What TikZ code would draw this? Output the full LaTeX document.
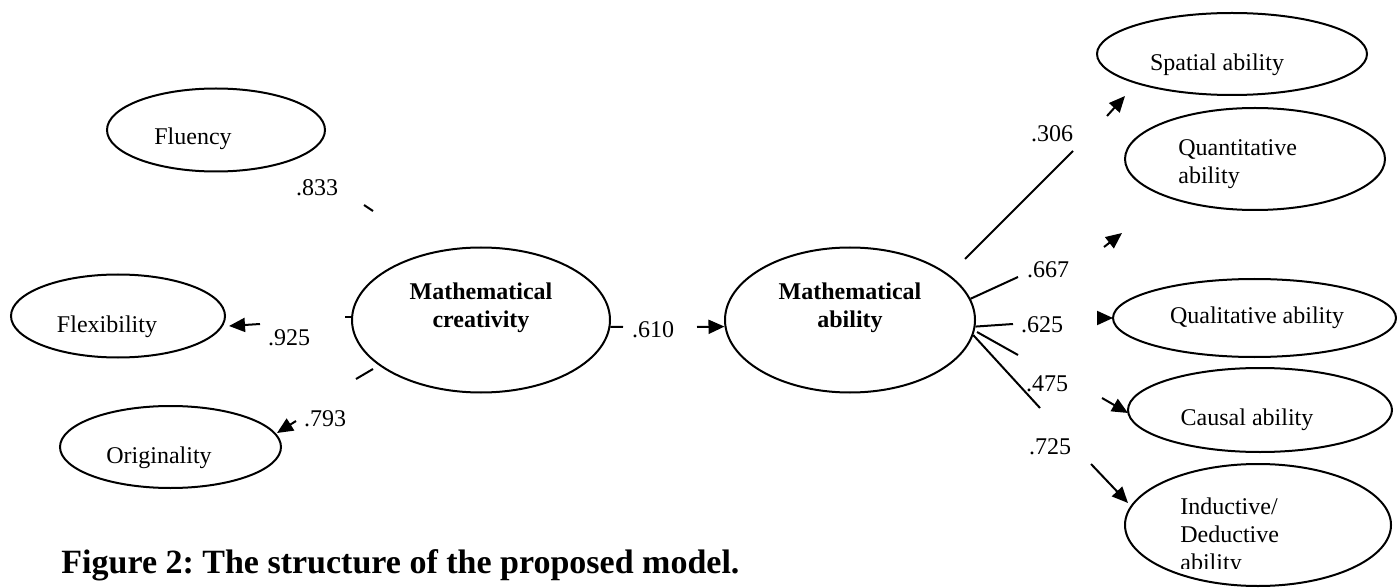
\documentclass[tikz,border=0pt]{standalone}
\usepackage{fontspec}
\setmainfont{Liberation Serif}
\frenchspacing
\usetikzlibrary{arrows.meta,shapes.geometric}
\begin{document}
\begin{tikzpicture}[x=0.5pt,y=-0.5pt,
  lat/.style={draw,ellipse,line width=1pt,inner sep=0pt},
  txt/.style={font=\fontsize{12}{14}\selectfont,inner sep=0pt},
  btxt/.style={font=\fontsize{12}{14}\selectfont\bfseries,inner sep=0pt,align=center},
  num/.style={font=\fontsize{12}{14}\selectfont,inner sep=0pt},
  seg/.style={line width=1pt},
  arr/.style={line width=1pt,-{Triangle[length=8pt,width=7pt]}}]
\useasboundingbox (0,0) rectangle (1397,588);

% latent / observed ellipses
\node[lat,minimum width=109pt,minimum height=41.5pt] (flu) at (216,130) {};
\node[lat,minimum width=107pt,minimum height=41.5pt] (flx) at (118,316) {};
\node[lat,minimum width=110.5pt,minimum height=41pt] (ori) at (170.5,447) {};
\node[lat,minimum width=129pt,minimum height=72.5pt] (cre) at (481,320) {};
\node[lat,minimum width=125pt,minimum height=72.5pt] (abl) at (850,320) {};
\node[lat,minimum width=135pt,minimum height=41pt] (spa) at (1232,54) {};
\node[lat,minimum width=130pt,minimum height=51pt] (qua) at (1255,159) {};
\node[lat,minimum width=141.5pt,minimum height=39pt] (qul) at (1254.5,318) {};
\node[lat,minimum width=132pt,minimum height=42pt] (cau) at (1260,410) {};
\node[lat,minimum width=133pt,minimum height=61pt] (ind) at (1258,525) {};

% texts
\node[txt] (flut) at (193,139) {Fluency};
\node[txt] (flxt) at (107,327) {Flexibility};
\node[txt] (orit) at (159,458) {Originality};
\node[btxt] (cret) at (481,308) {Mathematical\\creativity};
\node[btxt] (ablt) at (850,308) {Mathematical\\ability};
\node[txt] (spat) at (1217,65) {Spatial ability};
\node[txt,align=left,anchor=west] (quat) at (1178,164) {Quantitative\\ability};
\node[txt] (qult) at (1257,318) {Qualitative ability};
\node[txt] (caut) at (1247,420) {Causal ability};
\begin{scope}
\clip (1150,480) rectangle (1300,568);
\node[txt,align=left,anchor=west] (indt) at (1180,537) {Inductive/\\Deductive\\ability};
\end{scope}

% numbers
\node[num] (n833) at (317,188) {.833};
\node[num] (n925) at (289,338) {.925};
\node[num] (n793) at (325,419) {.793};
\node[num] (n610) at (653,330) {.610};
\node[num] (n306) at (1052,134) {.306};
\node[num] (n667) at (1048,270) {.667};
\node[num] (n625) at (1042,325) {.625};
\node[num] (n475) at (1047,384) {.475};
\node[num] (n725) at (1050,447) {.725};

% free ends of the broken connectors
\coordinate (a1) at (364,205); \coordinate (a2) at (373,211);
\coordinate (b1) at (345,317); \coordinate (b2) at (260,324); \coordinate (b3) at (229,326);
\coordinate (c1) at (356,379); \coordinate (c2) at (373,369);
\coordinate (c3) at (296,421); \coordinate (c4) at (277,433);
\coordinate (d1) at (623,327); \coordinate (d2) at (697,327);
\coordinate (e0) at (965,259); \coordinate (e1) at (1073,151);
\coordinate (e2) at (1107,116); \coordinate (e3) at (1125,96);
\coordinate (f2) at (1104,247); \coordinate (f3) at (1122,233);
\coordinate (f1) at (1018,277);
\coordinate (g1) at (1013,324); \coordinate (g2) at (1097,318); \coordinate (g3) at (1113,318);
\coordinate (h0) at (977,332); \coordinate (h1) at (1018,355);
\coordinate (h2) at (1102,398); \coordinate (h3) at (1128,413);
\coordinate (i1) at (1040,408); \coordinate (i2) at (1091,464); \coordinate (i3) at (1128,503);

% connectors
\draw[seg] (a1) -- (a2);
\draw[seg] (cre.west) ++(0,-3) coordinate (b0) (b0) -- (b1);
\draw[arr] (b2) -- (b3);
\draw[seg] (c1) -- (c2);
\draw[arr] (c3) -- (c4);
\draw[seg] (cre.-3) -- (d1);
\draw[arr] (d2) -- (abl.183);
\draw[seg] (e0) -- (e1);
\draw[arr] (e2) -- (e3);
\draw[seg] (abl.10) -- (f1);
\draw[arr] (f2) -- (f3);
\draw[seg] (abl.-3) -- (g1);
\draw[arr] (g2) -- (g3);
\draw[seg] (h0) -- (h1);
\draw[arr] (h2) -- (h3);
\draw[seg] (abl.-7) -- (i1);
\draw[arr] (i2) -- (i3);

% caption
\node[anchor=base west,inner sep=0pt,font=\fontsize{17}{20}\selectfont\bfseries] (cap) at (61,573) {Figure 2: The structure of the proposed model.};
\end{tikzpicture}
\end{document}
